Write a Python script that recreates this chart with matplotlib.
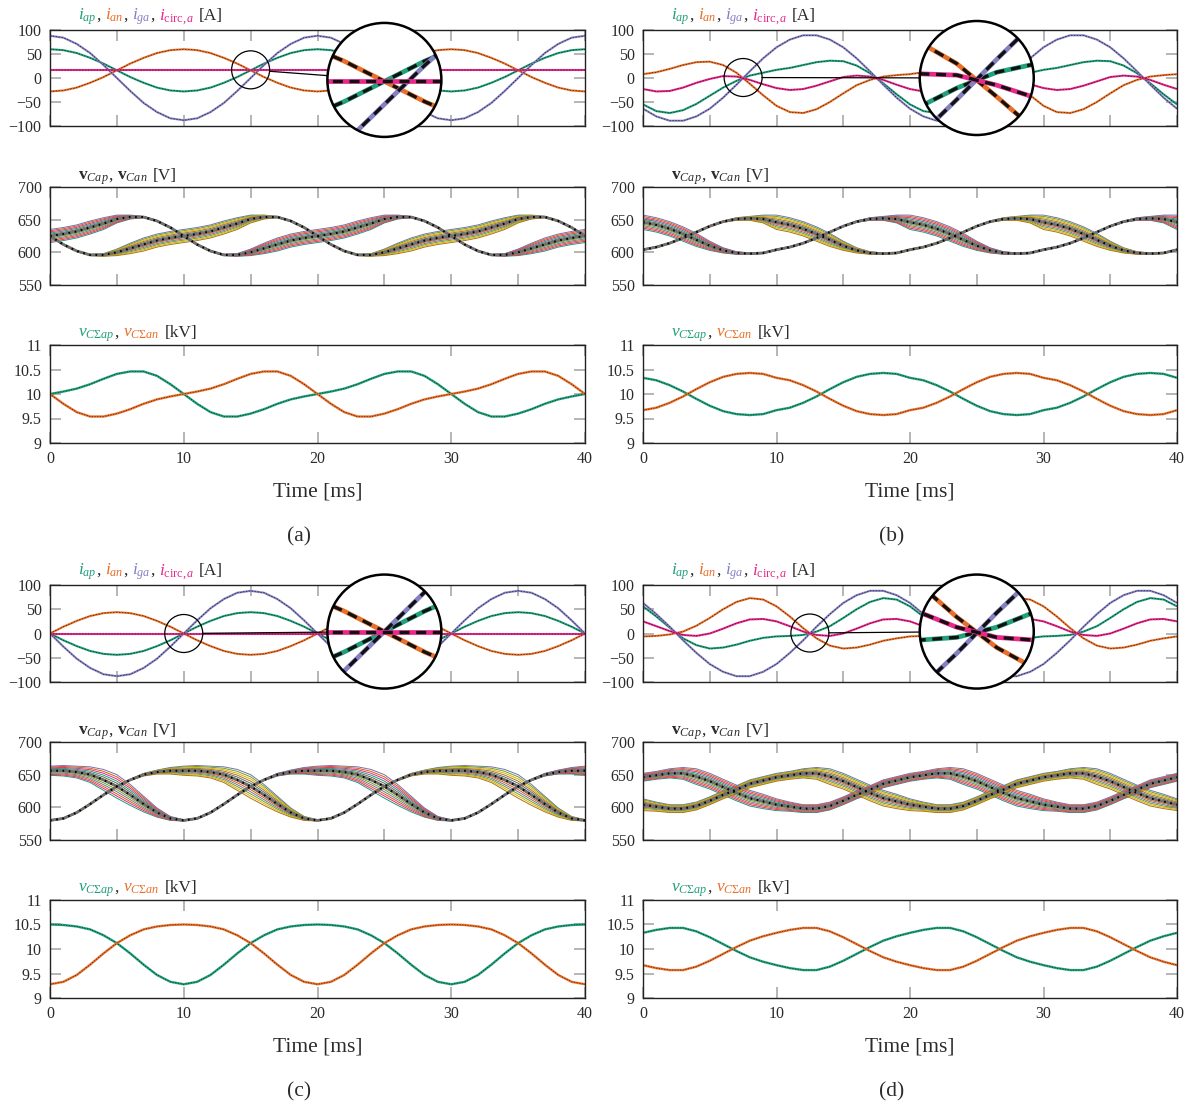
import numpy as np
import matplotlib
matplotlib.use("Agg")
import matplotlib.pyplot as plt
from matplotlib.patches import Circle, Ellipse
from matplotlib.lines import Line2D

plt.rcParams['font.family'] = ['Liberation Serif', 'DejaVu Serif']
plt.rcParams['mathtext.fontset'] = 'custom'
plt.rcParams['mathtext.rm'] = 'Liberation Serif'
plt.rcParams['mathtext.it'] = 'Liberation Serif:italic'
plt.rcParams['mathtext.bf'] = 'Liberation Serif:bold'

# ---------------------------------------------------------------- data
time_ms = list(range(41))

# (a)
a_i_ap = [60,58,52,42,30,16,2,-10,-20,-26,-28,-26,-20,-10,2,16,30,42,52,58,60,58,52,42,30,16,2,-10,-20,-26,-28,-26,-20,-10,2,16,30,42,52,58,60]
a_i_an = [-28,-26,-20,-10,2,16,30,42,52,58,60,58,52,42,30,16,2,-10,-20,-26,-28,-26,-20,-10,2,16,30,42,52,58,60,58,52,42,30,16,2,-10,-20,-26,-28]
a_i_ga = [88,84,71,52,27,0,-27,-52,-71,-84,-88,-84,-71,-52,-27,0,27,52,71,84,88,84,71,52,27,0,-27,-52,-71,-84,-88,-84,-71,-52,-27,0,27,52,71,84,88]
a_i_circ = [16,16,16,16,16,16,16,16,16,16,16,16,16,16,16,16,16,16,16,16,16,16,16,16,16,16,16,16,16,16,16,16,16,16,16,16,16,16,16,16,16]
a_vcap_p = [625,628,632,638,644,651,654,654,648,638,625,612,602,596,596,600,606,612,618,622,625,628,632,638,644,651,654,654,648,638,625,612,602,596,596,600,606,612,618,622,625]
a_vcap_n = [625,612,602,596,596,600,606,612,618,622,625,628,632,638,644,651,654,654,648,638,625,612,602,596,596,600,606,612,618,622,625,628,632,638,644,651,654,654,648,638,625]
a_spread_p = [10,10,10,10,9,6,3,1,1,1,1,1,1,1,2,5,8,10,10,10,10,10,10,10,9,6,3,1,1,1,1,1,1,1,2,5,8,10,10,10,10]
a_spread_n = [1,1,1,1,2,5,8,10,10,10,10,10,10,10,9,6,3,1,1,1,1,1,1,1,2,5,8,10,10,10,10,10,10,10,9,6,3,1,1,1,1]
a_vsum_p = [10.00,10.05,10.11,10.20,10.31,10.41,10.46,10.46,10.37,10.20,10.00,9.80,9.63,9.54,9.54,9.60,9.69,9.80,9.89,9.95,10.00,10.05,10.11,10.20,10.31,10.41,10.46,10.46,10.37,10.20,10.00,9.80,9.63,9.54,9.54,9.60,9.69,9.80,9.89,9.95,10.00]
a_vsum_n = [10.00,9.80,9.63,9.54,9.54,9.60,9.69,9.80,9.89,9.95,10.00,10.05,10.11,10.20,10.31,10.41,10.46,10.46,10.37,10.20,10.00,9.80,9.63,9.54,9.54,9.60,9.69,9.80,9.89,9.95,10.00,10.05,10.11,10.20,10.31,10.41,10.46,10.46,10.37,10.20,10.00]

# (b)
b_i_ap = [-55,-69,-73,-67,-54,-37,-20,-6,5,11,17,21,27,33,36,35,26,10,-11,-34,-55,-69,-73,-67,-54,-37,-20,-6,5,11,17,21,27,33,36,35,26,10,-11,-34,-55]
b_i_an = [8,12,19,27,33,34,27,11,-12,-36,-58,-71,-73,-65,-50,-32,-15,-4,3,6,8,12,19,27,33,34,27,11,-12,-36,-58,-71,-73,-65,-50,-32,-15,-4,3,6,8]
b_i_ga = [-64,-80,-89,-89,-80,-64,-41,-14,14,41,64,80,89,89,80,64,41,14,-14,-41,-64,-80,-89,-89,-80,-64,-41,-14,14,41,64,80,89,89,80,64,41,14,-14,-41,-64]
b_i_circ = [-23,-28,-27,-20,-10,-2,4,3,-4,-13,-21,-25,-23,-16,-7,2,5,3,-4,-14,-23,-28,-27,-20,-10,-2,4,3,-4,-13,-21,-25,-23,-16,-7,2,5,3,-4,-14,-23]
b_vcap_p = [646,642,636,628,619,610,603,599,598,599,604,608,614,622,631,640,647,651,652,651,646,642,636,628,619,610,603,599,598,599,604,608,614,622,631,640,647,651,652,651,646]
b_vcap_n = [604,608,614,622,631,640,647,651,652,651,646,642,636,628,619,610,603,599,598,599,604,608,614,622,631,640,647,651,652,651,646,642,636,628,619,610,603,599,598,599,604]
b_spread_p = [11,11,11,11,10,7,4,2,1,1,1,1,1,1,1,1,1,2,3,6,11,11,11,11,10,7,4,2,1,1,1,1,1,1,1,1,1,2,3,6,11]
b_spread_n = [1,1,1,1,1,1,1,2,3,6,11,11,11,11,10,7,4,2,1,1,1,1,1,1,1,1,1,2,3,6,11,11,11,11,10,7,4,2,1,1,1]
b_vsum_p = [10.33,10.28,10.18,10.05,9.90,9.76,9.65,9.59,9.57,9.59,9.67,9.72,9.82,9.95,10.10,10.24,10.35,10.41,10.43,10.41,10.33,10.28,10.18,10.05,9.90,9.76,9.65,9.59,9.57,9.59,9.67,9.72,9.82,9.95,10.10,10.24,10.35,10.41,10.43,10.41,10.33]
b_vsum_n = [9.67,9.72,9.82,9.95,10.10,10.24,10.35,10.41,10.43,10.41,10.33,10.28,10.18,10.05,9.90,9.76,9.65,9.59,9.57,9.59,9.67,9.72,9.82,9.95,10.10,10.24,10.35,10.41,10.43,10.41,10.33,10.28,10.18,10.05,9.90,9.76,9.65,9.59,9.57,9.59,9.67]

# (c)
c_i_ap = [0,-14,-26,-36,-42,-44,-42,-36,-26,-14,0,14,26,36,42,44,42,36,26,14,0,-14,-26,-36,-42,-44,-42,-36,-26,-14,0,14,26,36,42,44,42,36,26,14,0]
c_i_an = [0,14,26,36,42,44,42,36,26,14,0,-14,-26,-36,-42,-44,-42,-36,-26,-14,0,14,26,36,42,44,42,36,26,14,0,-14,-26,-36,-42,-44,-42,-36,-26,-14,0]
c_i_ga = [0,-27,-52,-71,-84,-88,-84,-71,-52,-27,0,27,52,71,84,88,84,71,52,27,0,-27,-52,-71,-84,-88,-84,-71,-52,-27,0,27,52,71,84,88,84,71,52,27,0]
c_i_circ = [0,0,0,0,0,0,0,0,0,0,0,0,0,0,0,0,0,0,0,0,0,0,0,0,0,0,0,0,0,0,0,0,0,0,0,0,0,0,0,0,0]
c_vcap_p = [656,656,654,650,642,632,619,605,592,583,580,583,592,605,619,632,642,650,654,656,656,656,654,650,642,632,619,605,592,583,580,583,592,605,619,632,642,650,654,656,656]
c_vcap_n = [580,583,592,605,619,632,642,650,654,656,656,656,654,650,642,632,619,605,592,583,580,583,592,605,619,632,642,650,654,656,656,656,654,650,642,632,619,605,592,583,580]
c_spread_p = [7,8,9,12,16,18,16,12,7,3,1,1,1,1,1,1,1,2,3,5,7,8,9,12,16,18,16,12,7,3,1,1,1,1,1,1,1,2,3,5,7]
c_spread_n = [1,1,1,1,1,1,1,2,3,5,7,8,9,12,16,18,16,12,7,3,1,1,1,1,1,1,1,2,3,5,7,8,9,12,16,18,16,12,7,3,1]
c_vsum_p = [10.50,10.49,10.46,10.40,10.28,10.12,9.91,9.68,9.47,9.33,9.28,9.33,9.47,9.68,9.91,10.12,10.28,10.40,10.46,10.49,10.50,10.49,10.46,10.40,10.28,10.12,9.91,9.68,9.47,9.33,9.28,9.33,9.47,9.68,9.91,10.12,10.28,10.40,10.46,10.49,10.50]
c_vsum_n = [9.28,9.33,9.47,9.68,9.91,10.12,10.28,10.40,10.46,10.49,10.50,10.49,10.46,10.40,10.28,10.12,9.91,9.68,9.47,9.33,9.28,9.33,9.47,9.68,9.91,10.12,10.28,10.40,10.46,10.49,10.50,10.49,10.46,10.40,10.28,10.12,9.91,9.68,9.47,9.33,9.28]

# (d)
d_i_ap = [56,35,12,-10,-24,-31,-29,-23,-15,-9,-6,-5,-3,4,15,32,50,65,73,70,56,35,12,-10,-24,-31,-29,-23,-15,-9,-6,-5,-3,4,15,32,50,65,73,70,56]
d_i_an = [-6,-5,-2,4,16,32,50,65,73,70,56,35,11,-10,-25,-31,-29,-23,-15,-10,-6,-5,-2,4,16,32,50,65,73,70,56,35,11,-10,-25,-31,-29,-23,-15,-10,-6]
d_i_ga = [63,40,14,-14,-40,-63,-79,-88,-88,-79,-63,-40,-14,14,40,63,79,88,88,79,63,40,14,-14,-40,-63,-79,-88,-88,-79,-63,-40,-14,14,40,63,79,88,88,79,63]
d_i_circ = [25,15,5,-3,-5,0,10,21,29,30,25,15,4,-3,-5,0,10,21,29,30,25,15,5,-3,-5,0,10,21,29,30,25,15,4,-3,-5,0,10,21,29,30,25]
d_vcap_p = [646,649,652,652,647,640,631,622,614,609,604,601,598,598,602,610,619,627,636,641,646,649,652,652,647,640,631,622,614,609,604,601,598,598,602,610,619,627,636,641,646]
d_vcap_n = [604,601,598,598,602,610,619,627,636,641,646,649,652,652,647,640,631,622,614,609,604,601,598,598,602,610,619,627,636,641,646,649,652,652,647,640,631,622,614,609,604]
d_spread_p = [6,6,7,9,12,12,12,12,12,11,9,7,6,6,6,6,6,6,6,6,6,6,7,9,12,12,12,12,12,11,9,7,6,6,6,6,6,6,6,6,6]
d_spread_n = [9,7,6,6,6,6,6,6,6,6,6,6,7,9,12,12,12,12,12,11,9,7,6,6,6,6,6,6,6,6,6,6,7,9,12,12,12,12,12,11,9]
d_vsum_p = [10.33,10.39,10.43,10.43,10.36,10.24,10.10,9.96,9.83,9.74,9.67,9.61,9.57,9.57,9.64,9.76,9.90,10.04,10.17,10.26,10.33,10.39,10.43,10.43,10.36,10.24,10.10,9.96,9.83,9.74,9.67,9.61,9.57,9.57,9.64,9.76,9.90,10.04,10.17,10.26,10.33]
d_vsum_n = [9.67,9.61,9.57,9.57,9.64,9.76,9.90,10.04,10.17,10.26,10.33,10.39,10.43,10.43,10.36,10.24,10.10,9.96,9.83,9.74,9.67,9.61,9.57,9.57,9.64,9.76,9.90,10.04,10.17,10.26,10.33,10.39,10.43,10.43,10.36,10.24,10.10,9.96,9.83,9.74,9.67]

# zoom windows: (small-circle centre t, i), (large-circle centre t, i)
zoom_a = (15.0, 17.0, 25.0, -4.0)
zoom_b = (7.5, 1.0, 25.0, 0.0)
zoom_c = (10.0, 0.0, 25.0, 4.0)
zoom_d = (12.5, 1.0, 25.0, 4.0)

panel_names = ['(a)', '(b)', '(c)', '(d)']
current_ticks = [-100, -50, 0, 50, 100]
current_labels = ['\u2212100', '\u221250', '0', '50', '100']
vcap_ticks = [550, 600, 650, 700]
vsum_ticks = [9, 9.5, 10, 10.5, 11]
vsum_labels = ['9', '9.5', '10', '10.5', '11']
time_ticks = [0, 10, 20, 30, 40]

# ---------------------------------------------------------------- style
GREEN, ORANGE, PURPLE, PINK = '#22a07b', '#e8702a', '#8480c2', '#e7298a'
DARK = '#2b2b2b'
CELL_COLORS = ['#1b9e77', '#e7298a', '#d95f02', '#7570b3', '#66a61e',
               '#e6ab02', '#a6761d', '#666666']
N_CELLS = 12
R_BIG = 57.0
R_SMALL = 19.0

W, H = 1192, 1104
fig = plt.figure(figsize=(W / 100, H / 100), dpi=100)
renderer = fig.canvas.get_renderer()

t = np.array(time_ms, dtype=float)


def px_axes(box, **kw):
    x0, y0, x1, y1 = box
    return fig.add_axes([x0 / W, 1 - y1 / H, (x1 - x0) / W, (y1 - y0) / H], **kw)


def style_axes(ax, show_time_labels):
    ax.set_xlim(0, 40)
    if show_time_labels:
        ax.set_xticks(time_ticks)
        ax.set_xticklabels([str(v) for v in time_ticks])
    else:
        ax.set_xticks(np.arange(0, 41, 5))
        ax.set_xticklabels([])
    ax.tick_params(direction='in', length=8, width=1.3, color='#b0b0b0',
                   top=True, right=True, labelsize=11.5, labelcolor=DARK, pad=6)
    for sp in ax.spines.values():
        sp.set_linewidth(1.0)
        sp.set_color('#222222')


def put_label(x_px, y_px, pieces, size=12.5):
    x = x_px
    for txt, col, gap in pieces:
        tx = fig.text(x / W, 1 - y_px / H, txt, color=col, fontsize=size,
                      ha='left', va='baseline')
        bb = tx.get_window_extent(renderer=renderer)
        x += bb.width + gap


def trace(ax, vals, col, lw=1.5, dlw=0.35, dash=(3, 3)):
    ax.plot(t, vals, color=col, lw=lw, solid_capstyle='butt')
    ax.plot(t, vals, color='black', lw=dlw, dashes=dash)


def add_zoom(ax, box, series, zoom):
    t0, v0, tb, vb = zoom
    x0, y0, x1, y1 = box
    pxms = (x1 - x0) / 40.0
    pxA = (y1 - y0) / 200.0
    sx, sy = x0 + t0 * pxms, y0 + (100 - v0) * pxA
    cx, cy = x0 + tb * pxms, y0 + (100 - vb) * pxA
    ax.add_patch(Ellipse((t0, v0), 2 * R_SMALL / pxms, 2 * R_SMALL / pxA,
                         fill=False, ec='black', lw=0.9, zorder=6))
    d = np.hypot(cx - sx, cy - sy)
    ux, uy = (cx - sx) / d, (cy - sy) / d
    p1 = (sx + ux * R_SMALL, sy + uy * R_SMALL)
    p2 = (cx - ux * R_BIG, cy - uy * R_BIG)
    fig.add_artist(Line2D([p1[0] / W, p2[0] / W], [1 - p1[1] / H, 1 - p2[1] / H],
                          transform=fig.transFigure, color='black', lw=0.9, zorder=5))
    ins = fig.add_axes([(cx - R_BIG) / W, 1 - (cy + R_BIG) / H,
                        2 * R_BIG / W, 2 * R_BIG / H], zorder=10)
    ins.set_xlim(t0 - R_SMALL / pxms, t0 + R_SMALL / pxms)
    ins.set_ylim(v0 - R_SMALL / pxA, v0 + R_SMALL / pxA)
    ins.axis('off')
    bg = Circle((0.5, 0.5), 0.5, transform=ins.transAxes, facecolor='white',
                edgecolor='none', zorder=0)
    ins.add_patch(bg)
    for vals, col in series:
        l1, = ins.plot(t, vals, color=col, lw=3.4, solid_capstyle='butt')
        l2, = ins.plot(t, vals, color='#111111', lw=2.4, dashes=(3, 2))
        l1.set_clip_path(bg)
        l2.set_clip_path(bg)
    ring = Circle((0.5, 0.5), 0.5, transform=ins.transAxes, fill=False,
                  ec='black', lw=1.8, zorder=20, clip_on=False)
    ins.add_patch(ring)


panels = [
    (a_i_ap, a_i_an, a_i_ga, a_i_circ, a_vcap_p, a_vcap_n, a_spread_p, a_spread_n, a_vsum_p, a_vsum_n, zoom_a),
    (b_i_ap, b_i_an, b_i_ga, b_i_circ, b_vcap_p, b_vcap_n, b_spread_p, b_spread_n, b_vsum_p, b_vsum_n, zoom_b),
    (c_i_ap, c_i_an, c_i_ga, c_i_circ, c_vcap_p, c_vcap_n, c_spread_p, c_spread_n, c_vsum_p, c_vsum_n, zoom_c),
    (d_i_ap, d_i_an, d_i_ga, d_i_circ, d_vcap_p, d_vcap_n, d_spread_p, d_spread_n, d_vsum_p, d_vsum_n, zoom_d),
]

col_x = [(50, 585), (643, 1177)]
row_y = [((30, 126), (187, 285), (345, 443), 492, 537),
         ((585, 682), (742, 840), (900, 998), 1047, 1092)]
cell_u = np.linspace(-1, 1, N_CELLS)

for idx, (i_ap, i_an, i_ga, i_circ, vp, vn, sp_p, sp_n, sp, sn, zoom) in enumerate(panels):
    cx0, cx1 = col_x[idx % 2]
    rows = row_y[idx // 2]
    lx = cx0 + 28

    # arm and grid currents
    box1 = (cx0, rows[0][0], cx1, rows[0][1])
    ax1 = px_axes(box1)
    trace(ax1, i_ap, GREEN)
    trace(ax1, i_an, ORANGE)
    trace(ax1, i_ga, PURPLE)
    trace(ax1, i_circ, PINK)
    ax1.set_ylim(-100, 100)
    ax1.set_yticks(current_ticks)
    ax1.set_yticklabels(current_labels)
    style_axes(ax1, False)
    add_zoom(ax1, box1, [(i_ap, GREEN), (i_an, ORANGE), (i_ga, PURPLE), (i_circ, PINK)], zoom)
    put_label(lx, rows[0][0] - 10, [
        (r'$i_{ap}$', GREEN, 0), (',', DARK, 4),
        (r'$i_{an}$', ORANGE, 0), (',', DARK, 4),
        (r'$i_{ga}$', PURPLE, 0), (',', DARK, 4),
        (r'$i_{\mathrm{circ},a}$', PINK, 5), ('[A]', DARK, 0)])

    # submodule capacitor voltages
    box2 = (cx0, rows[1][0], cx1, rows[1][1])
    ax2 = px_axes(box2)
    mp, mn = np.array(vp, float), np.array(vn, float)
    wp, wn = np.array(sp_p, float), np.array(sp_n, float)
    for k, u in enumerate(cell_u):
        ax2.plot(t, mp + u * wp, color=CELL_COLORS[k % len(CELL_COLORS)], lw=0.7)
        ax2.plot(t, mn - u * wn, color=CELL_COLORS[(k + 3) % len(CELL_COLORS)], lw=0.7)
    ax2.plot(t, vp, color='#707070', lw=2.0)
    ax2.plot(t, vn, color='#707070', lw=2.0)
    ax2.plot(t, vp, color='black', lw=1.5, dashes=(0.8, 2.2))
    ax2.plot(t, vn, color='black', lw=1.5, dashes=(0.8, 2.2))
    ax2.set_ylim(550, 700)
    ax2.set_yticks(vcap_ticks)
    style_axes(ax2, False)
    put_label(lx, rows[1][0] - 7, [
        (r'$\mathbf{v}_{Cap}$', DARK, 0), (',', DARK, 4),
        (r'$\mathbf{v}_{Can}$', DARK, 5), ('[V]', DARK, 0)])

    # arm capacitor voltage sums
    box3 = (cx0, rows[2][0], cx1, rows[2][1])
    ax3 = px_axes(box3)
    trace(ax3, sp, GREEN, lw=1.7, dlw=0.35, dash=(2.5, 3))
    trace(ax3, sn, ORANGE, lw=1.7, dlw=0.35, dash=(2.5, 3))
    ax3.set_ylim(9, 11)
    ax3.set_yticks(vsum_ticks)
    ax3.set_yticklabels(vsum_labels)
    style_axes(ax3, True)
    put_label(lx, rows[2][0] - 8, [
        (r'$v_{C\Sigma ap}$', GREEN, 0), (',', DARK, 4),
        (r'$v_{C\Sigma an}$', ORANGE, 5), ('[kV]', DARK, 0)])

    xm = (cx0 + cx1) / 2
    fig.text(xm / W, 1 - rows[3] / H, 'Time [ms]', fontsize=15.5, color=DARK,
             ha='center', va='center')
    fig.text((xm - 18) / W, 1 - rows[4] / H, panel_names[idx], fontsize=15.5,
             color=DARK, ha='center', va='center')

fig.savefig('out.png', dpi=100)
